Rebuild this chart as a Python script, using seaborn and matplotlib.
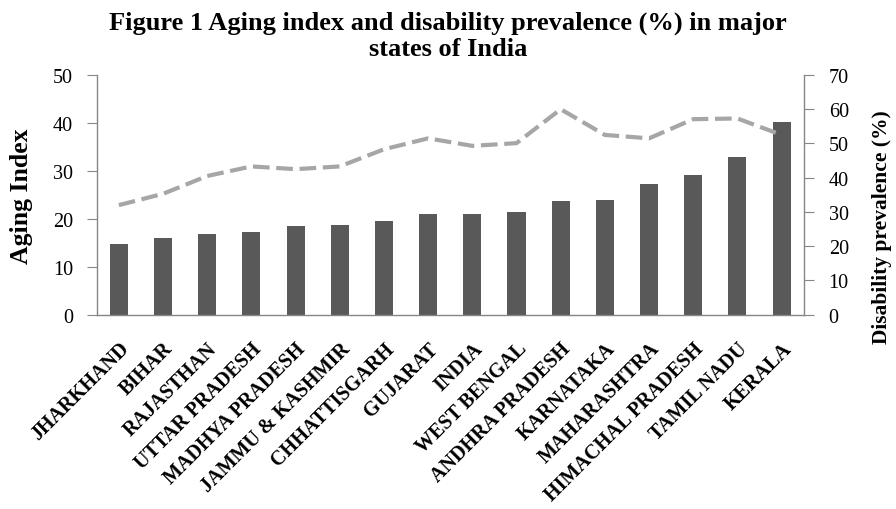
import matplotlib
matplotlib.use("Agg")
import matplotlib.pyplot as plt
import seaborn as sns
import pandas as pd
import numpy as np

states = ["JHARKHAND", "BIHAR", "RAJASTHAN", "UTTAR PRADESH", "MADHYA PRADESH",
          "JAMMU & KASHMIR", "CHHATTISGARH", "GUJARAT", "INDIA", "WEST BENGAL",
          "ANDHRA PRADESH", "KARNATAKA", "MAHARASHTRA", "HIMACHAL PRADESH",
          "TAMIL NADU", "KERALA"]
aging_index = [14.8, 15.9, 16.9, 17.2, 18.5, 18.8, 19.6, 21.1, 21.1, 21.4,
               23.8, 24.0, 27.3, 29.2, 32.9, 40.1]
disability_prev = [32.0, 35.3, 40.5, 43.3, 42.5, 43.3, 48.3, 51.5, 49.3, 50.1,
                   60.0, 52.5, 51.5, 57.1, 57.3, 52.5]
left_ticks = [0, 10, 20, 30, 40, 50]
right_ticks = [0, 10, 20, 30, 40, 50, 60, 70]

df = pd.DataFrame({"state": states, "aging": aging_index, "disab": disability_prev})
df["pos"] = np.arange(len(states))

sns.set_style("white")
plt.rcParams["font.family"] = ["Liberation Serif", "DejaVu Serif"]
plt.rcParams.update({"text.color": "black", "axes.labelcolor": "black",
                     "xtick.labelcolor": "black", "ytick.labelcolor": "black"})

axis_grey = "#868686"

fig = plt.figure(figsize=(8.96, 5.10), dpi=100)
ax = fig.add_axes([0.108, 0.381, 0.789, 0.470])

sns.barplot(data=df, x="state", y="aging", color="#595959", width=0.41,
            saturation=1, ax=ax, edgecolor="none")
ax.set_xlim(-0.5, len(states) - 0.5)
ax.set_ylim(0, 50)
ax.set_yticks(left_ticks)
ax.set_yticklabels([str(t) for t in left_ticks], fontsize=14.5)
ax.set_xlabel("")
ax.set_ylabel("Aging Index", fontsize=18.5, fontweight="bold")
ax.yaxis.set_label_coords(-0.09, 0.5)

# category ticks sit on the boundaries between bars
ax.set_xticks(np.arange(len(states)))
ax.set_xticklabels(states, rotation=45, ha="right", rotation_mode="anchor",
                   fontsize=14.5, fontweight="bold")
ax.tick_params(axis="x", which="major", length=0, pad=17)
ax.set_xticks(np.arange(len(states) + 1) - 0.5, minor=True)
ax.tick_params(axis="x", which="minor", length=6, color=axis_grey, direction="out")
ax.tick_params(axis="y", length=7, color=axis_grey, direction="out", left=True, pad=10)

for side in ["top", "right"]:
    ax.spines[side].set_visible(False)
for side in ["left", "bottom"]:
    ax.spines[side].set_color(axis_grey)
    ax.spines[side].set_linewidth(1.0)

ax2 = ax.twinx()
sns.lineplot(data=df, x="pos", y="disab", ax=ax2, color="#A6A6A6",
             linewidth=3.0, linestyle=(0, (4, 1.6)), legend=False)
ax2.set_xlim(-0.5, len(states) - 0.5)
ax2.set_ylim(0, 70)
ax2.set_yticks(right_ticks)
ax2.set_yticklabels([str(t) for t in right_ticks], fontsize=14.5)
ax2.set_xlabel("")
ax2.set_ylabel("Disability prevalence (%)", fontsize=15.5, fontweight="bold",
               rotation=90)
ax2.yaxis.set_label_coords(1.097, 0.37)
ax2.tick_params(axis="y", length=7, color=axis_grey, direction="out", right=True, pad=11)
for side in ["top", "left", "bottom"]:
    ax2.spines[side].set_visible(False)
ax2.spines["right"].set_color(axis_grey)
ax2.spines["right"].set_linewidth(1.0)

fig.suptitle("Figure 1 Aging index and disability prevalence (%) in major\nstates of India",
             fontsize=19, fontweight="bold", y=0.978, linespacing=1.2)

fig.savefig("out.png", dpi=100)
